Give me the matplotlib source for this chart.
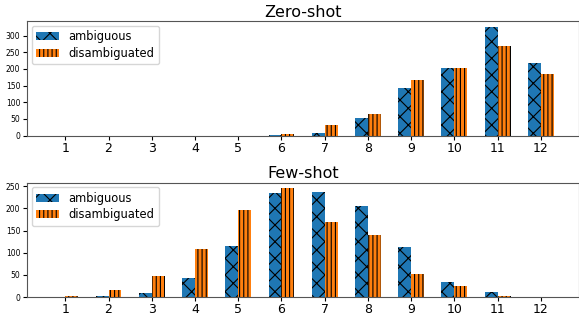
import numpy as np
import matplotlib

matplotlib.use("Agg")
import matplotlib.pyplot as plt

# counts per number of steps
steps = list(range(1, 13))
zero_amb = [0, 0, 0, 0, 0, 1, 8, 52, 144, 204, 327, 219]
zero_dis = [0, 0, 0, 0, 0, 4, 31, 66, 167, 202, 270, 186]
few_amb = [0, 2, 9, 43, 115, 234, 236, 205, 113, 34, 11, 1]
few_dis = [2, 17, 48, 108, 196, 246, 169, 139, 52, 25, 3, 0]

plt.rcParams["hatch.linewidth"] = 0.8

fig, axes = plt.subplots(2, 1, figsize=(5.79, 3.15), dpi=100)
fig.subplots_adjust(left=0.047, right=1.0, top=0.933, bottom=0.057, hspace=0.41)

w = 0.3
x = np.array(steps)
for ax, amb, dis, title in [
    (axes[0], zero_amb, zero_dis, "Zero-shot"),
    (axes[1], few_amb, few_dis, "Few-shot"),
]:
    ax.bar(x - w / 2, amb, w, color="#1f77b4", hatch="xx", edgecolor="black",
           linewidth=0, label="ambiguous")
    ax.bar(x + w / 2, dis, w, color="#ff7f0e", hatch="||||", edgecolor="black",
           linewidth=0, label="disambiguated")
    ax.set_xticks(steps)
    ax.tick_params(axis="x", labelsize=9, pad=1.5, length=3)
    ax.tick_params(axis="y", labelsize=5.5, pad=2, length=3)
    ax.set_title(title, fontsize=11.5, pad=3)
    ax.legend(loc="upper left", fontsize=8.3, borderaxespad=0.4, labelspacing=0.3)
    for s in ("left", "bottom", "top", "right"):
        ax.spines[s].set_color("#555555")

fig.savefig("out.png", dpi=100)
